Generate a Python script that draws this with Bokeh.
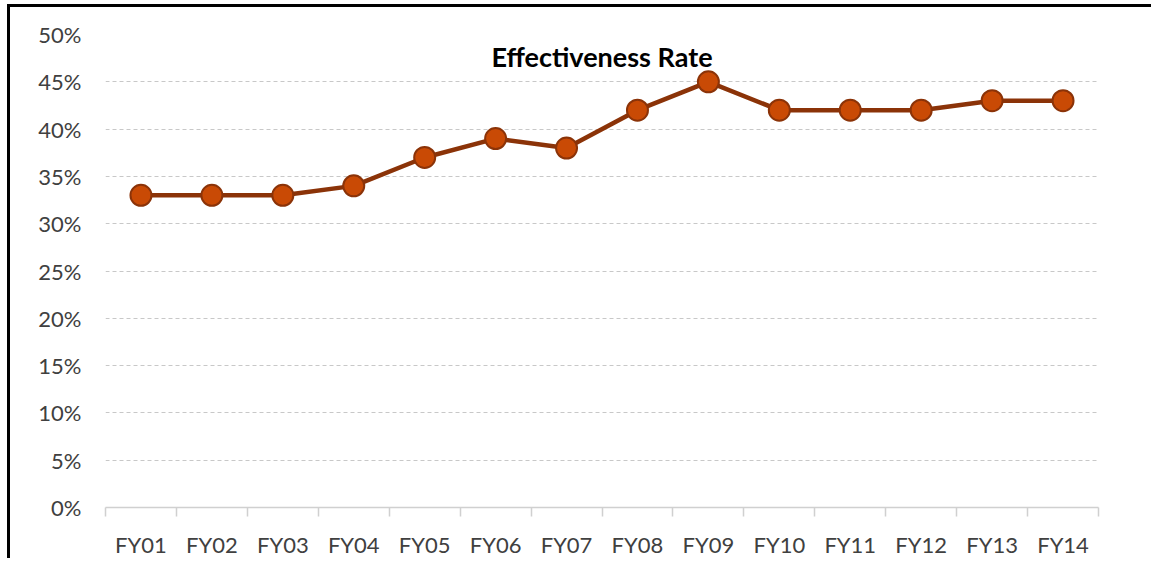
from bokeh.plotting import figure
from bokeh.models import FixedTicker, Range1d, Label, NumeralTickFormatter
from bokeh.embed import file_html
from bokeh.resources import INLINE

categories = ["FY01", "FY02", "FY03", "FY04", "FY05", "FY06", "FY07",
              "FY08", "FY09", "FY10", "FY11", "FY12", "FY13", "FY14"]
rates = [0.33, 0.33, 0.33, 0.34, 0.37, 0.39, 0.38,
         0.42, 0.45, 0.42, 0.42, 0.42, 0.43, 0.43]
y_ticks = [0.0, 0.05, 0.10, 0.15, 0.20, 0.25, 0.30, 0.35, 0.40, 0.45, 0.50]
title_text = "Effectiveness Rate"

xs = [i + 0.5 for i in range(len(categories))]

FONT = "Lato"

p = figure(width=1144, height=554, output_backend="svg", toolbar_location=None,
           x_range=Range1d(0, len(categories)), y_range=Range1d(0, 0.5),
           min_border_left=95, min_border_right=56, min_border_top=27,
           min_border_bottom=54)
p.styles = {"border-left": "3px solid black", "border-top": "3px solid black",
            "margin-left": "7px", "margin-top": "4px"}
p.outline_line_color = None
p.background_fill_color = "white"
p.border_fill_color = "white"

# x axis
p.xaxis.ticker = FixedTicker(ticks=xs, minor_ticks=list(range(len(categories) + 1)))
p.xaxis.major_label_overrides = {x: c for x, c in zip(xs, categories)}
p.xaxis.major_tick_line_color = None
p.xaxis.major_tick_out = 0
p.xaxis.major_tick_in = 0
p.xaxis.minor_tick_line_color = "#d0d0d0"
p.xaxis.minor_tick_line_width = 1.5
p.xaxis.minor_tick_out = 9
p.xaxis.minor_tick_in = 0
p.xaxis.axis_line_color = "#d0d0d0"
p.xaxis.axis_line_width = 1.5
p.xaxis.major_label_standoff = 14
p.xaxis.major_label_text_font = FONT
p.xaxis.major_label_text_font_size = "22px"
p.xaxis.major_label_text_color = "#404040"
p.xgrid.grid_line_color = None

# y axis
p.yaxis.ticker = FixedTicker(ticks=y_ticks)
p.yaxis.formatter = NumeralTickFormatter(format="0%")
p.yaxis.axis_line_color = None
p.yaxis.major_tick_line_color = None
p.yaxis.minor_tick_line_color = None
p.yaxis.major_tick_out = 0
p.yaxis.major_label_standoff = 24
p.yaxis.major_label_text_font = FONT
p.yaxis.major_label_text_font_size = "22px"
p.yaxis.major_label_text_color = "#404040"
p.ygrid.ticker = FixedTicker(ticks=y_ticks[1:])
p.ygrid.grid_line_color = "#c8c8c8"
p.ygrid.grid_line_dash = "4 3"
p.ygrid.grid_line_width = 1

p.line(xs, rates, line_color="#8b3308", line_width=4.5)
p.scatter(xs, rates, size=21, fill_color="#c94a05", line_color="#8b3308", line_width=2)

p.add_layout(Label(x=7, y=0.477, text=title_text, text_align="center",
                   text_baseline="middle", text_font=FONT, text_font_style="bold",
                   text_font_size="27px", text_color="black"))

open("out.html", "w").write(file_html(p, INLINE))
